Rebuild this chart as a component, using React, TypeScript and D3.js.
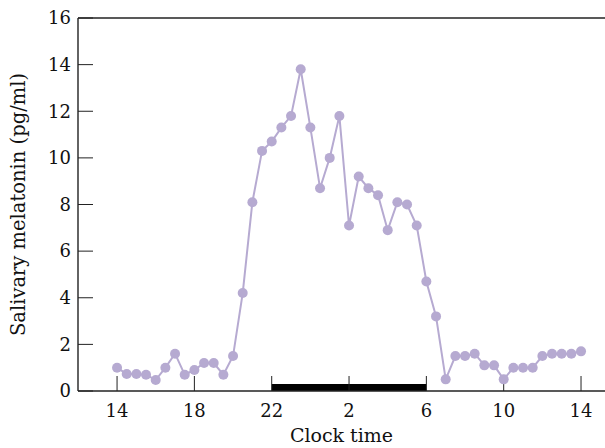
import { useEffect, useRef } from 'react'
import * as d3 from 'd3'

// hours since midnight of day 1 (14 .. 38), sampled every half hour
const hours = d3.range(14, 38.01, 0.5)
const melatonin = [
  1.0, 0.73, 0.73, 0.7, 0.47, 1.0, 1.6, 0.7, 0.9, 1.2, 1.2, 0.7, 1.5,
  4.2, 8.1, 10.3, 10.7, 11.3, 11.8, 13.8, 11.3, 8.7, 10.0, 11.8, 7.1,
  9.2, 8.7, 8.4, 6.9, 8.1, 8.0, 7.1, 4.7, 3.2, 0.5, 1.5, 1.5, 1.6,
  1.1, 1.1, 0.5, 1.0, 1.0, 1.0, 1.5, 1.6, 1.6, 1.6, 1.7
]
const xTicks = [14, 18, 22, 26, 30, 34, 38]
const xTickLabels = ['14', '18', '22', '2', '6', '10', '14']
const yTicks = [0, 2, 4, 6, 8, 10, 12, 14, 16]
const sleepWindow = [22, 30]

export default function App() {
  const chartRef = useRef<SVGSVGElement | null>(null)

  useEffect(() => {
    const W = 605
    const H = 448
    const margin = { top: 18, right: 0, bottom: 57, left: 78 }
    const svg = d3.select(chartRef.current)
    svg.selectAll('*').remove()

    const x = d3.scaleLinear().domain([11.98, 39.24]).range([margin.left, W - margin.right])
    const y = d3.scaleLinear().domain([0, 16]).range([H - margin.bottom, margin.top])
    const font = 'DejaVu Serif, serif'
    const axisColor = '#222'
    const purple = '#b6aad1'

    const data = hours.map((h, i) => ({ h, v: melatonin[i] }))

    // sleep bar
    svg.append('rect')
      .attr('x', x(sleepWindow[0]))
      .attr('width', x(sleepWindow[1]) - x(sleepWindow[0]))
      .attr('y', y(0) - 7)
      .attr('height', 7)
      .attr('fill', '#000')

    // axes lines
    svg.append('line')
      .attr('x1', margin.left).attr('x2', W)
      .attr('y1', y(0)).attr('y2', y(0))
      .attr('stroke', axisColor).attr('stroke-width', 1.4)
    svg.append('line')
      .attr('x1', margin.left).attr('x2', W)
      .attr('y1', y(16)).attr('y2', y(16))
      .attr('stroke', axisColor).attr('stroke-width', 1.4)
    svg.append('line')
      .attr('x1', margin.left).attr('x2', margin.left)
      .attr('y1', y(0)).attr('y2', y(16))
      .attr('stroke', axisColor).attr('stroke-width', 1.4)

    // y ticks (inward)
    svg.selectAll('.ytick')
      .data(yTicks)
      .enter().append('line')
      .attr('x1', margin.left).attr('x2', margin.left + 15)
      .attr('y1', d => y(d)).attr('y2', d => y(d))
      .attr('stroke', axisColor).attr('stroke-width', 1)
    svg.selectAll('.ylabel')
      .data(yTicks)
      .enter().append('text')
      .attr('x', margin.left - 7)
      .attr('y', d => y(d))
      .attr('dy', '0.35em')
      .attr('text-anchor', 'end')
      .style('font-family', font)
      .style('font-size', '18px')
      .attr('fill', '#111')
      .text(d => d)

    // x ticks (inward)
    svg.selectAll('.xtick')
      .data(xTicks)
      .enter().append('line')
      .attr('x1', d => x(d)).attr('x2', d => x(d))
      .attr('y1', y(0)).attr('y2', y(0) - 15)
      .attr('stroke', axisColor).attr('stroke-width', 1)
    svg.selectAll('.xlabel')
      .data(xTicks)
      .enter().append('text')
      .attr('x', d => x(d))
      .attr('y', y(0) + 26)
      .attr('text-anchor', 'middle')
      .style('font-family', font)
      .style('font-size', '18px')
      .attr('fill', '#111')
      .text((d, i) => xTickLabels[i])

    // line + markers
    const line = d3.line<{ h: number; v: number }>()
      .x(d => x(d.h))
      .y(d => y(d.v))
    svg.append('path')
      .datum(data)
      .attr('d', line)
      .attr('fill', 'none')
      .attr('stroke', purple)
      .attr('stroke-width', 2)
    svg.selectAll('.dot')
      .data(data)
      .enter().append('circle')
      .attr('cx', d => x(d.h))
      .attr('cy', d => y(d.v))
      .attr('r', 5)
      .attr('fill', purple)

    // axis titles
    svg.append('text')
      .attr('x', (margin.left + W) / 2)
      .attr('y', H - 6)
      .attr('text-anchor', 'middle')
      .style('font-family', font)
      .style('font-size', '19px')
      .attr('fill', '#111')
      .text('Clock time')
    svg.append('text')
      .attr('transform', `translate(25,${(y(0) + y(16)) / 2}) rotate(-90)`)
      .attr('text-anchor', 'middle')
      .style('font-family', font)
      .style('font-size', '19.5px')
      .attr('fill', '#111')
      .text('Salivary melatonin (pg/ml)')
  }, [])

  return (
    <svg
      ref={chartRef}
      width={605}
      height={448}
      style={{ position: 'absolute', left: 0, top: 0, background: '#fff' }}
    />
  )
}
